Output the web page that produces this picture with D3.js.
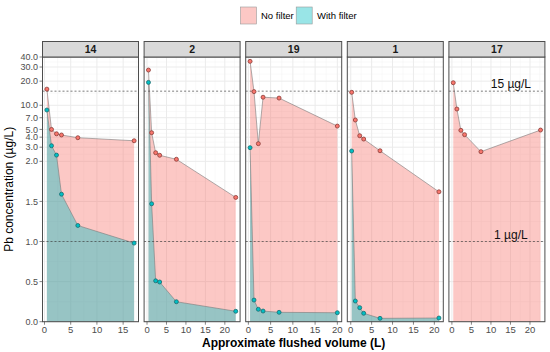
<!DOCTYPE html>
<html><head><meta charset="utf-8">
<script src="https://cdn.jsdelivr.net/npm/d3@7"></script>
<style>body{margin:0;background:#fff}svg{display:block;font-family:"Liberation Sans",Arial,sans-serif}</style>
</head><body><svg id="c" width="550" height="352"></svg>
<script>
const sites = ["14","2","19","1","17"];
const seriesNames = ["No filter","With filter"];
const colors = ["#F8766D","#00BFC4"];
const strokes = ["#8a3b36","#1d6b6e"];
// flushed volume (L) per site
const vol14 = [0.45,1.34,2.29,3.24,6.36,17.1];
const vol2  = [0.37,1.19,2.22,3.25,7.55,22.8];
const vol19 = [0.38,1.27,2.24,3.3,6.9,20.0];
const vol1  = [0.22,1.1,2.15,3.1,7.0,21.1];
const vol17 = [0.35,1.28,2.3,3.25,7.44,22.7];
// Pb concentration (ug/L)
const noFilter14 = [15.9,5.0,4.41,4.26,3.94,3.61];
const withFilter14 = [8.73,3.13,2.39,1.59,1.20,0.98];
const noFilter2 = [27.5,4.55,2.56,2.38,2.12,1.55];
const withFilter2 = [19.3,1.47,0.51,0.495,0.249,0.13];
const noFilter19 = [35.3,14.8,3.32,12.6,12.3,5.5];
const withFilter19 = [2.96,0.27,0.155,0.133,0.117,0.112];
const noFilter1 = [14.5,6.55,4.17,3.79,2.71,1.62];
const withFilter1 = [2.69,0.258,0.175,0.105,0.042,0.046];
const noFilter17 = [19.1,8.98,4.87,4.3,2.64,4.91];
const withFilter17 = [];
const yTicks = [0,0.5,1,1.5,2,3,4,5,7,10,20,30,40];
const xTicks = [0,5,10,15,20];
const refLines = [15,1];
const refLabels = ["15 \u00b5g/L","1 \u00b5g/L"];

const volumes = [vol14,vol2,vol19,vol1,vol17];
const noF = [noFilter14,noFilter2,noFilter19,noFilter1,noFilter17];
const withF = [withFilter14,withFilter2,withFilter19,withFilter1,withFilter17];

const svg = d3.select("#c");
const tr = v => v <= 2 ? v : 2 + Math.log10(v/2);
const panelTop = 57, panelBot = 321.7;
const ty = d3.scaleLinear().domain([0, tr(40)]).range([panelBot, panelTop]);
const y = v => ty(tr(v));
const pLeft0 = 42.5, pW = 96, pStep = 101.6;

// minor y breaks in transformed space
const yT = yTicks.map(tr);
const yMinor = [];
for (let i=0;i<yT.length-1;i++) yMinor.push((yT[i]+yT[i+1])/2);

// y axis labels
const yax = svg.append("g");
yTicks.forEach(t => {
  yax.append("line").attr("x1",pLeft0-3).attr("x2",pLeft0).attr("y1",y(t)).attr("y2",y(t)).attr("stroke","#333").attr("stroke-width",0.6);
  yax.append("text").attr("x",pLeft0-4.5).attr("y",y(t)).attr("dy","0.35em").attr("text-anchor","end")
    .attr("font-size",9).attr("fill","#4D4D4D").text(t.toFixed(1));
});

sites.forEach((s,i) => {
  const x0 = pLeft0 + i*pStep;
  const g = svg.append("g");
  const vols = volumes[i];
  const ext = d3.extent(vols); const pad = (ext[1]-ext[0])*0.05;
  const x = d3.scaleLinear().domain([ext[0]-pad, ext[1]+pad]).range([x0, x0+pW]);
  // background + grid
  g.append("rect").attr("x",x0).attr("y",panelTop).attr("width",pW).attr("height",panelBot-panelTop).attr("fill","#fff");
  const xt = xTicks.filter(t => t>=x.domain()[0] && t<=x.domain()[1]);
  const xMinor = [];
  for (let t=-2.5;t<=30;t+=5) if (t>=x.domain()[0] && t<=x.domain()[1]) xMinor.push(t);
  xMinor.forEach(t => g.append("line").attr("x1",x(t)).attr("x2",x(t)).attr("y1",panelTop).attr("y2",panelBot).attr("stroke","#F2F2F2").attr("stroke-width",0.5));
  yMinor.forEach(t => g.append("line").attr("x1",x0).attr("x2",x0+pW).attr("y1",ty(t)).attr("y2",ty(t)).attr("stroke","#F2F2F2").attr("stroke-width",0.5));
  xt.forEach(t => g.append("line").attr("x1",x(t)).attr("x2",x(t)).attr("y1",panelTop).attr("y2",panelBot).attr("stroke","#EBEBEB").attr("stroke-width",1));
  yT.forEach(t => g.append("line").attr("x1",x0).attr("x2",x0+pW).attr("y1",ty(t)).attr("y2",ty(t)).attr("stroke","#EBEBEB").attr("stroke-width",1));
  // areas
  [noF[i], withF[i]].forEach((vals,k) => {
    if (!vals.length) return;
    const pts = vals.map((v,j)=>[vols[j],v]);
    const area = d3.area().x(d=>x(d[0])).y0(y(0)).y1(d=>y(d[1]));
    g.append("path").attr("d",area(pts)).attr("fill",colors[k]).attr("fill-opacity",0.4);
  });
  [noF[i], withF[i]].forEach((vals,k) => {
    if (!vals.length) return;
    const pts = vals.map((v,j)=>[vols[j],v]);
    const line = d3.line().x(d=>x(d[0])).y(d=>y(d[1]));
    g.append("path").attr("d",line(pts)).attr("fill","none").attr("stroke","#7a7a7a").attr("stroke-width",0.6);
  });
  // reference lines
  refLines.forEach(r => g.append("line").attr("x1",x0).attr("x2",x0+pW).attr("y1",y(r)).attr("y2",y(r))
    .attr("stroke","#444").attr("stroke-width",0.7).attr("stroke-dasharray","2,2"));
  // points
  [noF[i], withF[i]].forEach((vals,k) => {
    vals.forEach((v,j) => g.append("circle").attr("cx",x(vols[j])).attr("cy",y(v)).attr("r",2)
      .attr("fill",colors[k]).attr("stroke",strokes[k]).attr("stroke-width",0.8));
  });
  if (i === sites.length-1) {
    refLines.forEach((r,k) => g.append("text").attr("x",x0+62).attr("y",y(r)-3).attr("text-anchor","middle")
      .attr("font-size",12).attr("fill","#111").text(refLabels[k]));
  }
  // border
  g.append("rect").attr("x",x0).attr("y",panelTop).attr("width",pW).attr("height",panelBot-panelTop).attr("fill","none").attr("stroke","#4d4d4d").attr("stroke-width",1);
  // strip
  g.append("rect").attr("x",x0).attr("y",41.5).attr("width",pW).attr("height",panelTop-41.5).attr("fill","#D9D9D9").attr("stroke","#4d4d4d").attr("stroke-width",1);
  g.append("text").attr("x",x0+pW/2).attr("y",(41.5+panelTop)/2).attr("dy","0.35em").attr("text-anchor","middle")
    .attr("font-size",10.5).attr("font-weight","bold").attr("fill","#1A1A1A").text(s);
  // x axis
  xt.forEach(t => {
    g.append("line").attr("x1",x(t)).attr("x2",x(t)).attr("y1",panelBot).attr("y2",panelBot+3).attr("stroke","#333").attr("stroke-width",0.6);
    g.append("text").attr("x",x(t)).attr("y",panelBot+11.5).attr("text-anchor","middle").attr("font-size",9.5).attr("fill","#4D4D4D").text(t);
  });
});

// axis titles
svg.append("text").attr("x",(pLeft0+pLeft0+4*pStep+pW)/2).attr("y",346.5).attr("text-anchor","middle")
  .attr("font-size",12).attr("font-weight","bold").attr("fill","#000").text("Approximate flushed volume (L)");
svg.append("text").attr("transform",`translate(13,${(panelTop+panelBot)/2}) rotate(-90)`).attr("text-anchor","middle")
  .attr("font-size",12).attr("fill","#000").text("Pb concentration (\u00b5g/L)");

// legend
const lg = svg.append("g");
const keyX = [240, 295.7], txtX = [261, 317];
seriesNames.forEach((n,k) => {
  lg.append("rect").attr("x",keyX[k]+0.5).attr("y",7).attr("width",16).attr("height",17).attr("fill","#fff");
  lg.append("rect").attr("x",keyX[k]+0.5).attr("y",7).attr("width",16).attr("height",17).attr("fill",colors[k]).attr("fill-opacity",0.4).attr("stroke","#999").attr("stroke-width",0.6);
  lg.append("text").attr("x",txtX[k]).attr("y",15.5).attr("dy","0.35em").attr("font-size",9.5).attr("fill","#000").text(n);
});
</script></body></html>
